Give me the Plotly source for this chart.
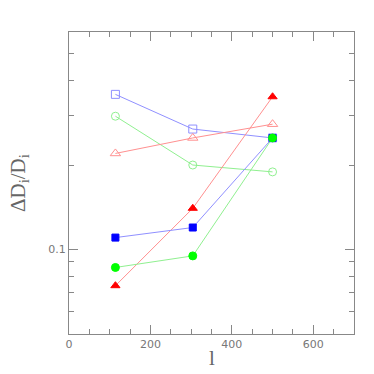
import plotly.graph_objects as go

l_vals = [114, 304, 500]

# open symbols
blue_open = [0.358, 0.269, 0.250]
green_open = [0.299, 0.200, 0.189]
red_open = [0.220, 0.250, 0.280]
# filled symbols
red_filled = [0.074, 0.140, 0.351]
blue_filled = [0.110, 0.1195, 0.250]
green_filled = [0.086, 0.0946, 0.250]

y_minor = [0.06, 0.07, 0.08, 0.09, 0.2, 0.3, 0.4, 0.5]

light_blue = "#9090ff"
light_green = "#90f090"
light_red = "#ff9090"

fig = go.Figure()

def add(y, line_color, marker_color, symbol, size):
    fig.add_trace(go.Scatter(
        x=l_vals, y=y, mode="lines+markers",
        line=dict(color=line_color, width=1),
        marker=dict(color=marker_color, symbol=symbol, size=size,
                    line=dict(color=marker_color, width=1)),
        showlegend=False
    ))

add(blue_open, light_blue, light_blue, "square-open", 8)
add(green_open, light_green, light_green, "circle-open", 8)
add(red_open, light_red, light_red, "triangle-up-open", 9)
add(red_filled, light_red, "#ff0000", "triangle-up", 8)
add(blue_filled, light_blue, "#0000ff", "square", 7)
add(green_filled, light_green, "#00ff00", "circle", 8)

axis_col = "#888888"
tick_font = dict(family="DejaVu Sans", size=11, color="#777777")
title_font = dict(family="Liberation Serif", size=21, color="#666666")

# page has an 8px body margin, so margins are shifted to compensate
fig.update_layout(
    width=374, height=374,
    margin=dict(l=61, r=28, t=24, b=48, autoexpand=False),
    paper_bgcolor="white",
    plot_bgcolor="white",
    xaxis=dict(
        range=[0, 700],
        tickvals=[0, 200, 400, 600],
        ticks="inside", ticklen=9, tickcolor=axis_col,
        minor=dict(dtick=50, ticks="inside", ticklen=5, tickcolor=axis_col),
        showline=True, linecolor=axis_col, linewidth=1, mirror="ticks",
        showgrid=False, zeroline=False,
        tickfont=tick_font,
        automargin=False,
    ),
    yaxis=dict(
        type="log",
        range=[-1.3036, -0.223],
        tickvals=[0.1], ticktext=["0.1"],
        ticks="inside", ticklen=9, tickcolor=axis_col,
        minor=dict(tickmode="array", tickvals=y_minor, ticks="inside", ticklen=5,
                   tickcolor=axis_col),
        showline=True, linecolor=axis_col, linewidth=1, mirror="ticks",
        showgrid=False, zeroline=False,
        tickfont=tick_font,
        automargin=False,
    ),
    annotations=[
        dict(text="l", xref="paper", yref="paper", x=0.5, y=0,
             xanchor="center", yanchor="middle", yshift=-24,
             showarrow=False, font=title_font),
        dict(text="ΔD<sub>i</sub>/D<sub>i</sub>", xref="paper", yref="paper",
             x=0, y=0.5, xanchor="center", yanchor="middle", xshift=-50,
             textangle=-90, showarrow=False, font=title_font),
    ],
)

fig.write_html("out.html")
